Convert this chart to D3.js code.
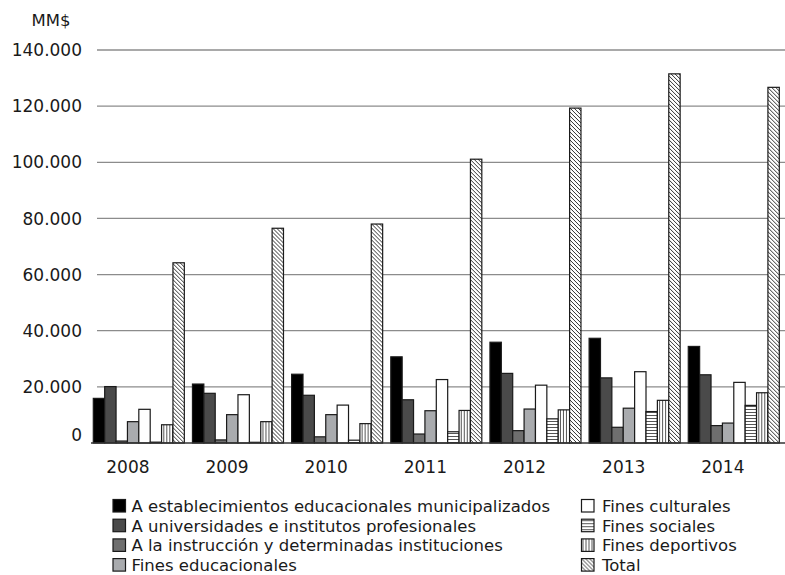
<!DOCTYPE html>
<html>
<head>
<meta charset="utf-8">
<script src="https://cdn.jsdelivr.net/npm/d3@7"></script>
<style>
  html, body { margin: 0; padding: 0; background: #fff; }
  svg { display: block; font-family: "DejaVu Sans", sans-serif; }
</style>
</head>
<body>
<svg id="chart" width="785" height="575"></svg>
<script>
// Años
const years = ["2008", "2009", "2010", "2011", "2012", "2013", "2014"];

// Series (MM$)
const seriesNames = [
  "A establecimientos educacionales municipalizados",
  "A universidades e institutos profesionales",
  "A la instrucción y determinadas instituciones",
  "Fines educacionales",
  "Fines culturales",
  "Fines sociales",
  "Fines deportivos",
  "Total"
];
const municipalizados = [15900, 21000, 24500, 30700, 35900, 37300, 34400];
const universidades   = [20100, 17700, 17000, 15400, 24800, 23200, 24300];
const instruccion     = [700, 1100, 2200, 3200, 4400, 5600, 6200];
const educacionales   = [7600, 10100, 10100, 11500, 12100, 12400, 7100];
const culturales      = [12000, 17200, 13500, 22600, 20600, 25400, 21600];
const sociales        = [300, 250, 1000, 4000, 8600, 11200, 13400];
const deportivos      = [6500, 7600, 6900, 11600, 11800, 15200, 17900];
const total           = [64200, 76500, 78000, 101100, 119300, 131500, 126700];

const yTicks = [0, 20000, 40000, 60000, 80000, 100000, 120000, 140000];
const unitLabel = "MM$";

const seriesValues = [municipalizados, universidades, instruccion, educacionales,
                      culturales, sociales, deportivos, total];

const fills = ["#000000", "#4a4a4a", "#6f6f6f", "#a9abae", "#ffffff",
               "url(#pat-h)", "url(#pat-v)", "url(#pat-d)"];

const svg = d3.select("#chart");
const defs = svg.append("defs");

// horizontal lines
const ph = defs.append("pattern").attr("id", "pat-h")
  .attr("patternUnits", "userSpaceOnUse").attr("width", 4).attr("height", 3);
ph.append("rect").attr("width", 4).attr("height", 3).attr("fill", "#fff");
ph.append("line").attr("x1", 0).attr("x2", 4).attr("y1", 1.5).attr("y2", 1.5)
  .attr("stroke", "#555").attr("stroke-width", 1);

// vertical lines
const pv = defs.append("pattern").attr("id", "pat-v")
  .attr("patternUnits", "userSpaceOnUse").attr("width", 3).attr("height", 4);
pv.append("rect").attr("width", 3).attr("height", 4).attr("fill", "#fff");
pv.append("line").attr("y1", 0).attr("y2", 4).attr("x1", 1.5).attr("x2", 1.5)
  .attr("stroke", "#555").attr("stroke-width", 1);

// diagonal hatch
const pd = defs.append("pattern").attr("id", "pat-d")
  .attr("patternUnits", "userSpaceOnUse").attr("width", 4).attr("height", 4);
pd.append("rect").attr("width", 4).attr("height", 4).attr("fill", "#fff");
pd.append("path").attr("d", "M-1,-1L5,5M-1,3L1,5M3,-1L5,1")
  .attr("stroke", "#333").attr("stroke-width", 1);

// scales
const x = d3.scaleBand().domain(years).range([93.3, 779.3]).paddingInner(0.082).paddingOuter(0);
const xs = d3.scaleBand().domain(d3.range(seriesNames.length)).range([0, x.bandwidth()]);
const y = d3.scaleLinear().domain([0, 140000]).range([443, 50]);

const locale = d3.formatLocale({ decimal: ",", thousands: ".", grouping: [3], currency: ["$", ""] });
const fmt = locale.format(",");

// grid
svg.append("g").selectAll("line")
  .data(yTicks.filter(d => d > 0))
  .join("line")
  .attr("x1", 97).attr("x2", 785)
  .attr("y1", d => y(d)).attr("y2", d => y(d))
  .attr("stroke", "#8c8c8c").attr("stroke-width", 1.3);

// y labels
svg.append("g").selectAll("text")
  .data(yTicks)
  .join("text")
  .attr("x", 82)
  .attr("y", d => d === 0 ? y(d) - 2 : y(d))
  .attr("dy", d => d === 0 ? "0" : "0.36em")
  .attr("text-anchor", "end")
  .attr("font-size", 17)
  .attr("fill", "#1a1a1a")
  .text(d => fmt(d));

svg.append("text")
  .attr("x", 51).attr("y", 26)
  .attr("text-anchor", "middle")
  .attr("font-size", 16.5)
  .attr("fill", "#1a1a1a")
  .text(unitLabel);

// bars
const groups = svg.append("g").selectAll("g")
  .data(years)
  .join("g")
  .attr("transform", d => `translate(${x(d)},0)`);

groups.selectAll("rect")
  .data((yr, i) => seriesValues.map((vals, s) => ({ s, v: vals[i] })))
  .join("rect")
  .attr("x", d => xs(d.s))
  .attr("width", xs.bandwidth())
  .attr("y", d => y(d.v))
  .attr("height", d => y(0) - y(d.v))
  .attr("fill", d => fills[d.s])
  .attr("stroke", "#1a1a1a")
  .attr("stroke-width", 1.2);

// base axis line
svg.append("line")
  .attr("x1", 91).attr("x2", 785)
  .attr("y1", y(0)).attr("y2", y(0))
  .attr("stroke", "#333").attr("stroke-width", 1.6);

// year labels
svg.append("g").selectAll("text")
  .data(years)
  .join("text")
  .attr("x", d => x(d) + x.bandwidth() * 0.38)
  .attr("y", 473)
  .attr("text-anchor", "middle")
  .attr("font-size", 17)
  .attr("fill", "#1a1a1a")
  .text(d => d);

// legend
const legend = svg.append("g").selectAll("g")
  .data(seriesNames)
  .join("g")
  .attr("transform", (d, i) => {
    const col = i < 4 ? 0 : 1;
    const row = i % 4;
    return `translate(${col === 0 ? 113 : 581.5},${499.5 + row * 19.7})`;
  });

legend.append("rect")
  .attr("width", 12.5).attr("height", 12.5)
  .attr("fill", (d, i) => fills[i])
  .attr("stroke", "#1a1a1a").attr("stroke-width", 1.2);

legend.append("text")
  .attr("x", (d, i) => i < 4 ? 18.5 : 20.5)
  .attr("y", 12.3)
  .attr("font-size", 16.5)
  .attr("fill", "#1a1a1a")
  .text(d => d);
</script>
</body>
</html>
